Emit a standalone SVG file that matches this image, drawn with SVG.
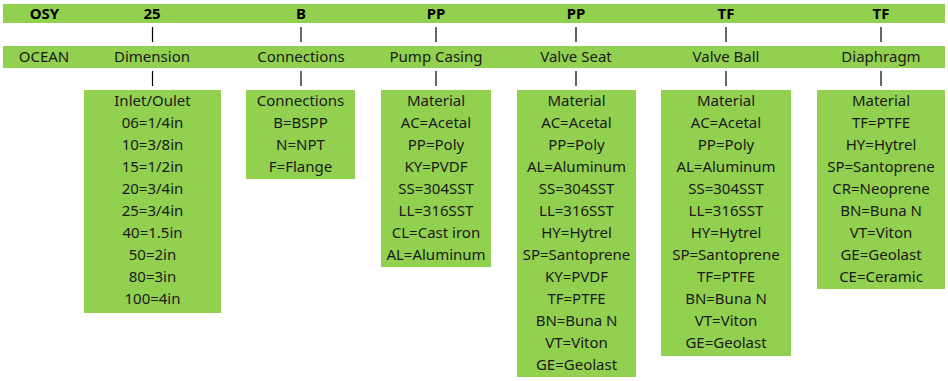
<svg xmlns="http://www.w3.org/2000/svg" width="948" height="381" viewBox="0 0 948 381">
<style>
.band{fill:#92D050}
.box{fill:#92D050}
.t{font-family:"Noto Sans","Open Sans",sans-serif;font-size:15px;fill:#1a1a1a;text-anchor:middle}
.b{font-family:"Noto Sans","Open Sans",sans-serif;font-size:15px;font-weight:bold;fill:#000;text-anchor:middle}
.tick{stroke:#000;stroke-width:1.2}
</style>
<rect width="948" height="381" fill="#fff"/>
<g id="code-row">
<rect class="band" x="3" y="4" width="942" height="19"/>
<text class="b" x="44.5" y="18.5">OSY</text>
<text class="b" x="152" y="18.5">25</text>
<text class="b" x="301" y="18.5">B</text>
<text class="b" x="436" y="18.5">PP</text>
<text class="b" x="576" y="18.5">PP</text>
<text class="b" x="726" y="18.5">TF</text>
<text class="b" x="881" y="18.5">TF</text>
</g>
<g id="name-row">
<rect class="band" x="3" y="46" width="942" height="22"/>
<text class="t" x="44" y="62">OCEAN</text>
<text class="t" x="152" y="62">Dimension</text>
<text class="t" x="301" y="62">Connections</text>
<text class="t" x="436" y="62">Pump Casing</text>
<text class="t" x="576" y="62">Valve Seat</text>
<text class="t" x="726" y="62">Valve Ball</text>
<text class="t" x="881" y="62">Diaphragm</text>
</g>
<g id="connectors">
<line class="tick" x1="152.5" y1="27" x2="152.5" y2="42"/>
<line class="tick" x1="152.5" y1="71" x2="152.5" y2="86"/>
<line class="tick" x1="301" y1="27" x2="301" y2="42"/>
<line class="tick" x1="301" y1="71" x2="301" y2="86"/>
<line class="tick" x1="436" y1="27" x2="436" y2="42"/>
<line class="tick" x1="436" y1="71" x2="436" y2="86"/>
<line class="tick" x1="576" y1="27" x2="576" y2="42"/>
<line class="tick" x1="576" y1="71" x2="576" y2="86"/>
<line class="tick" x1="726" y1="27" x2="726" y2="42"/>
<line class="tick" x1="726" y1="71" x2="726" y2="86"/>
<line class="tick" x1="881" y1="27" x2="881" y2="42"/>
<line class="tick" x1="881" y1="71" x2="881" y2="86"/>
</g>
<g id="dimension">
<rect class="box" x="84" y="90" width="137" height="223"/>
<text class="t" x="152.5" y="106">Inlet/Oulet</text>
<text class="t" x="152.5" y="128">06=1/4in</text>
<text class="t" x="152.5" y="150">10=3/8in</text>
<text class="t" x="152.5" y="172">15=1/2in</text>
<text class="t" x="152.5" y="194">20=3/4in</text>
<text class="t" x="152.5" y="216">25=3/4in</text>
<text class="t" x="152.5" y="238">40=1.5in</text>
<text class="t" x="152.5" y="260">50=2in</text>
<text class="t" x="152.5" y="282">80=3in</text>
<text class="t" x="152.5" y="304">100=4in</text>
</g>
<g id="connections">
<rect class="box" x="246" y="90" width="109" height="89"/>
<text class="t" x="300.5" y="106">Connections</text>
<text class="t" x="300.5" y="128">B=BSPP</text>
<text class="t" x="300.5" y="150">N=NPT</text>
<text class="t" x="300.5" y="172">F=Flange</text>
</g>
<g id="pump-casing">
<rect class="box" x="381" y="90" width="110" height="177"/>
<text class="t" x="436" y="106">Material</text>
<text class="t" x="436" y="128">AC=Acetal</text>
<text class="t" x="436" y="150">PP=Poly</text>
<text class="t" x="436" y="172">KY=PVDF</text>
<text class="t" x="436" y="194">SS=304SST</text>
<text class="t" x="436" y="216">LL=316SST</text>
<text class="t" x="436" y="238">CL=Cast iron</text>
<text class="t" x="436" y="260">AL=Aluminum</text>
</g>
<g id="valve-seat">
<rect class="box" x="517" y="90" width="119" height="287"/>
<text class="t" x="576.5" y="106">Material</text>
<text class="t" x="576.5" y="128">AC=Acetal</text>
<text class="t" x="576.5" y="150">PP=Poly</text>
<text class="t" x="576.5" y="172">AL=Aluminum</text>
<text class="t" x="576.5" y="194">SS=304SST</text>
<text class="t" x="576.5" y="216">LL=316SST</text>
<text class="t" x="576.5" y="238">HY=Hytrel</text>
<text class="t" x="576.5" y="260">SP=Santoprene</text>
<text class="t" x="576.5" y="282">KY=PVDF</text>
<text class="t" x="576.5" y="304">TF=PTFE</text>
<text class="t" x="576.5" y="326">BN=Buna N</text>
<text class="t" x="576.5" y="348">VT=Viton</text>
<text class="t" x="576.5" y="370">GE=Geolast</text>
</g>
<g id="valve-ball">
<rect class="box" x="661" y="90" width="130" height="266"/>
<text class="t" x="726" y="106">Material</text>
<text class="t" x="726" y="128">AC=Acetal</text>
<text class="t" x="726" y="150">PP=Poly</text>
<text class="t" x="726" y="172">AL=Aluminum</text>
<text class="t" x="726" y="194">SS=304SST</text>
<text class="t" x="726" y="216">LL=316SST</text>
<text class="t" x="726" y="238">HY=Hytrel</text>
<text class="t" x="726" y="260">SP=Santoprene</text>
<text class="t" x="726" y="282">TF=PTFE</text>
<text class="t" x="726" y="304">BN=Buna N</text>
<text class="t" x="726" y="326">VT=Viton</text>
<text class="t" x="726" y="348">GE=Geolast</text>
</g>
<g id="diaphragm">
<rect class="box" x="817" y="90" width="128" height="199"/>
<text class="t" x="881" y="106">Material</text>
<text class="t" x="881" y="128">TF=PTFE</text>
<text class="t" x="881" y="150">HY=Hytrel</text>
<text class="t" x="881" y="172">SP=Santoprene</text>
<text class="t" x="881" y="194">CR=Neoprene</text>
<text class="t" x="881" y="216">BN=Buna N</text>
<text class="t" x="881" y="238">VT=Viton</text>
<text class="t" x="881" y="260">GE=Geolast</text>
<text class="t" x="881" y="282">CE=Ceramic</text>
</g>
</svg>
